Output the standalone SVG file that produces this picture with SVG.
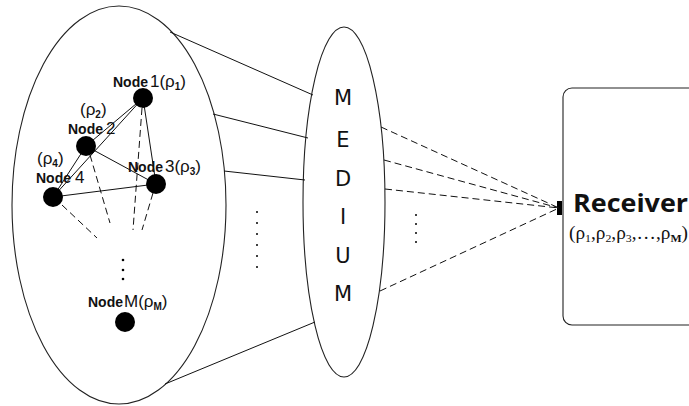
<svg xmlns="http://www.w3.org/2000/svg" width="689" height="406" viewBox="0 0 689 406">
<style>
.shape{fill:#fff;stroke:#222;stroke-width:1.1}
.ln{stroke:#111;stroke-width:1;fill:none}
.dash{stroke:#111;stroke-width:1;fill:none;stroke-dasharray:7,4}
.dot{fill:#000}
.nb{font-family:"Liberation Sans",Arial,sans-serif;font-weight:bold;font-size:14px;fill:#111}
.nr{font-family:"Liberation Sans",Arial,sans-serif;font-size:17px;fill:#111}
.sub{font-family:"Liberation Sans",Arial,sans-serif;font-size:10px;font-weight:bold;fill:#111}
.med{font-family:"DejaVu Sans","Liberation Sans",sans-serif;font-size:21px;fill:#111;text-anchor:middle}
.rcv{font-family:"Open Sans","Liberation Sans",sans-serif;font-weight:bold;font-size:25px;fill:#111}
.rs{font-family:"Liberation Serif",serif;font-size:18px;fill:#111}
</style>
<rect width="689" height="406" fill="#fff"/>
<g id="cluster">
<ellipse class="shape" cx="119" cy="205" rx="107" ry="199"/>
</g>
<g id="medium">
<ellipse class="shape" cx="344" cy="202" rx="41" ry="175"/>
<text class="med" x="343" y="105">M</text>
<text class="med" x="343" y="147">E</text>
<text class="med" x="343" y="186">D</text>
<text class="med" x="343" y="224">I</text>
<text class="med" x="343" y="263">U</text>
<text class="med" x="343" y="301">M</text>
</g>
<g id="receiver">
<rect class="shape" x="563" y="88" width="140" height="237" rx="9"/>
<rect x="557" y="201" width="5" height="14" fill="#000"/>
<text class="rcv" x="573" y="212" textLength="115" lengthAdjust="spacingAndGlyphs">Receiver</text>
<text class="rs" x="569" y="239" textLength="119" lengthAdjust="spacingAndGlyphs">(ρ<tspan font-size="11" dy="3">1</tspan><tspan dy="-3">,ρ</tspan><tspan font-size="11" dy="3">2</tspan><tspan dy="-3">,ρ</tspan><tspan font-size="11" dy="3">3</tspan><tspan dy="-3">,…,ρ</tspan><tspan font-size="11" font-weight="bold" dy="3">M</tspan><tspan dy="-3">)</tspan></text>
</g>
<g id="connectors">
<line class="ln" x1="170" y1="32" x2="313" y2="95"/>
<line class="ln" x1="213" y1="114" x2="308" y2="138"/>
<line class="ln" x1="224" y1="171" x2="305" y2="180"/>
<line class="ln" x1="165" y1="384" x2="315" y2="322"/>
<line class="dash" x1="381" y1="127" x2="559" y2="208"/>
<line class="dash" x1="384" y1="160" x2="559" y2="208"/>
<line class="dash" x1="385" y1="189" x2="559" y2="208"/>
<line class="dash" x1="380" y1="291" x2="559" y2="208"/>
<line class="ln" x1="143" y1="98" x2="86" y2="146"/>
<line class="ln" x1="143" y1="98" x2="53" y2="197"/>
<line class="ln" x1="143" y1="98" x2="156" y2="184"/>
<line class="ln" x1="86" y1="146" x2="156" y2="184"/>
<line class="ln" x1="86" y1="146" x2="53" y2="197"/>
<line class="ln" x1="53" y1="197" x2="156" y2="184"/>
<line class="dash" x1="142" y1="108" x2="133" y2="230"/>
<line class="dash" x1="90" y1="155" x2="110" y2="223"/>
<line class="dash" x1="62" y1="205" x2="97" y2="238"/>
<line class="dash" x1="153" y1="193" x2="142" y2="230"/>
</g>
<g id="dots">
<circle class="dot" cx="123" cy="260" r="1.3"/>
<circle class="dot" cx="123" cy="270" r="1.3"/>
<circle class="dot" cx="123" cy="279" r="1.3"/>
<circle class="dot" cx="257" cy="212" r="1"/>
<circle class="dot" cx="257" cy="223" r="1"/>
<circle class="dot" cx="257" cy="234" r="1"/>
<circle class="dot" cx="257" cy="245" r="1"/>
<circle class="dot" cx="257" cy="256" r="1"/>
<circle class="dot" cx="257" cy="267" r="1"/>
<circle class="dot" cx="416" cy="215" r="1"/>
<circle class="dot" cx="416" cy="224" r="1"/>
<circle class="dot" cx="416" cy="233" r="1"/>
<circle class="dot" cx="416" cy="242" r="1"/>
</g>
<g id="node1">
<circle cx="143" cy="98" r="10" fill="#000"/>
<text x="113" y="87"><tspan class="nb">Node</tspan><tspan class="nr" x="150">1(ρ</tspan><tspan class="sub" dy="3">1</tspan><tspan class="nr" dy="-3">)</tspan></text>
</g>
<g id="node2">
<circle cx="86" cy="146" r="10" fill="#000"/>
<text x="80" y="115"><tspan class="nr">(ρ</tspan><tspan class="sub" dy="3">2</tspan><tspan class="nr" dy="-3">)</tspan></text>
<text x="68" y="134"><tspan class="nb">Node</tspan><tspan class="nr" x="106">2</tspan></text>
</g>
<g id="node3">
<circle cx="156" cy="184" r="10" fill="#000"/>
<text x="128" y="172"><tspan class="nb">Node</tspan><tspan class="nr" x="165">3(ρ</tspan><tspan class="sub" dy="3">3</tspan><tspan class="nr" dy="-3">)</tspan></text>
</g>
<g id="node4">
<circle cx="53" cy="197" r="10" fill="#000"/>
<text x="37" y="164"><tspan class="nr">(ρ</tspan><tspan class="sub" dy="3">4</tspan><tspan class="nr" dy="-3">)</tspan></text>
<text x="36" y="183"><tspan class="nb">Node</tspan><tspan class="nr" x="75">4</tspan></text>
</g>
<g id="nodeM">
<circle cx="125" cy="322" r="10" fill="#000"/>
<text x="88" y="307"><tspan class="nb">Node</tspan><tspan class="nr" x="124">M(ρ</tspan><tspan class="sub" dy="3">M</tspan><tspan class="nr" dy="-3">)</tspan></text>
</g>
</svg>
